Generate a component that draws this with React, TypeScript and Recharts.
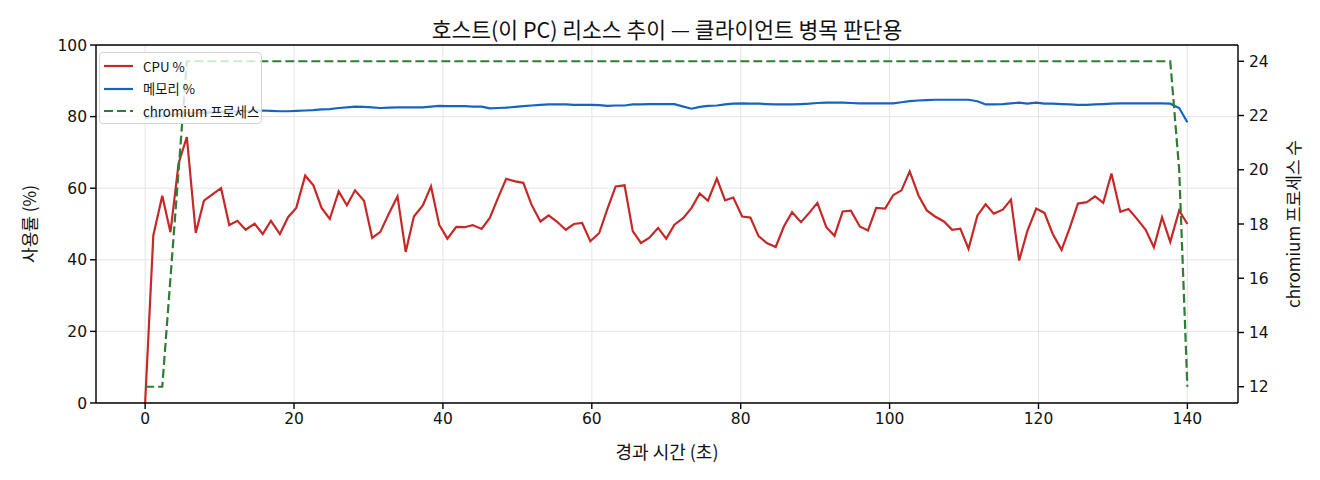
import { CartesianGrid, Line, LineChart, ReferenceLine, XAxis, YAxis } from 'recharts'

// elapsed seconds per sample (roughly 1.13 s apart)
const elapsed = [
  0, 1.1, 2.3, 3.4, 4.5, 5.6, 6.8, 7.9, 9.0, 10.2,
  11.3, 12.4, 13.5, 14.7, 15.8, 16.9, 18.1, 19.2, 20.3, 21.5,
  22.6, 23.7, 24.8, 26.0, 27.1, 28.2, 29.4, 30.5, 31.6, 32.7,
  33.9, 35.0, 36.1, 37.3, 38.4, 39.5, 40.6, 41.8, 42.9, 44.0,
  45.2, 46.3, 47.4, 48.5, 49.7, 50.8, 51.9, 53.1, 54.2, 55.3,
  56.5, 57.6, 58.7, 59.8, 61.0, 62.1, 63.2, 64.4, 65.5, 66.6,
  67.7, 68.9, 70.0, 71.1, 72.3, 73.4, 74.5, 75.6, 76.8, 77.9,
  79.0, 80.2, 81.3, 82.4, 83.5, 84.7, 85.8, 86.9, 88.1, 89.2,
  90.3, 91.5, 92.6, 93.7, 94.8, 96.0, 97.1, 98.2, 99.4, 100.5,
  101.6, 102.7, 103.9, 105.0, 106.1, 107.3, 108.4, 109.5, 110.6, 111.8,
  112.9, 114.0, 115.2, 116.3, 117.4, 118.5, 119.7, 120.8, 121.9, 123.1,
  124.2, 125.3, 126.5, 127.6, 128.7, 129.8, 131.0, 132.1, 133.2, 134.4,
  135.5, 136.6, 137.7, 138.9, 140.0,
]

const cpuPct = [
  0, 46.8, 57.9, 47.7, 67.0, 74.3, 47.5, 56.5, 58.2, 60.0,
  49.7, 50.9, 48.4, 50.1, 47.2, 50.9, 47.2, 51.9, 54.5, 63.5,
  60.8, 54.5, 51.4, 59.1, 55.2, 59.4, 56.5, 46.1, 47.8, 52.7,
  57.7, 42.2, 52.1, 55.2, 60.5, 49.8, 45.9, 49.2, 49.1, 49.7,
  48.6, 51.7, 57.3, 62.6, 61.9, 61.5, 55.4, 50.7, 52.4, 50.7,
  48.4, 50.0, 50.3, 45.2, 47.5, 54.2, 60.5, 60.8, 48.0, 44.7,
  46.1, 48.9, 45.9, 49.8, 51.7, 54.5, 58.5, 56.5, 62.7, 56.6,
  57.4, 52.1, 51.8, 46.6, 44.7, 43.6, 49.3, 53.3, 50.5, 53.1,
  55.9, 49.1, 46.7, 53.5, 53.7, 49.3, 48.2, 54.5, 54.3, 58.1,
  59.4, 64.7, 57.9, 53.8, 52.1, 50.7, 48.4, 48.7, 43.1, 52.4,
  55.5, 52.9, 54.0, 56.8, 39.8, 48.0, 54.3, 53.1, 47.3, 42.8,
  48.9, 55.7, 56.1, 57.7, 55.9, 64.1, 53.4, 54.2, 51.5, 48.4,
  43.5, 51.9, 45.0, 53.8, 50.0,
]

const memPct = [
  79.6, 79.9, 80.1, 80.4, 80.7, 80.9, 81.0, 81.1, 81.2, 81.3,
  81.4, 81.4, 81.5, 81.6, 81.7, 81.6, 81.5, 81.5, 81.6, 81.7,
  81.8, 82.0, 82.1, 82.4, 82.6, 82.8, 82.7, 82.6, 82.4, 82.5,
  82.6, 82.6, 82.6, 82.6, 82.8, 83.0, 82.9, 82.9, 82.9, 82.8,
  82.8, 82.3, 82.4, 82.5, 82.7, 82.9, 83.1, 83.3, 83.4, 83.4,
  83.4, 83.3, 83.3, 83.3, 83.2, 83.0, 83.1, 83.1, 83.4, 83.4,
  83.5, 83.5, 83.5, 83.5, 82.8, 82.2, 82.7, 83.0, 83.1, 83.4,
  83.6, 83.7, 83.6, 83.6, 83.5, 83.4, 83.4, 83.4, 83.5, 83.6,
  83.8, 83.9, 83.9, 83.9, 83.8, 83.7, 83.7, 83.7, 83.7, 83.7,
  84.0, 84.3, 84.5, 84.6, 84.7, 84.7, 84.7, 84.7, 84.7, 84.3,
  83.4, 83.4, 83.5, 83.7, 83.9, 83.6, 83.9, 83.6, 83.6, 83.5,
  83.4, 83.3, 83.3, 83.4, 83.5, 83.6, 83.7, 83.7, 83.7, 83.7,
  83.7, 83.7, 83.6, 82.4, 78.4,
]

const chromiumProcs = [
  12, 12, 12, 16, 20, 24, 24, 24, 24, 24,
  24, 24, 24, 24, 24, 24, 24, 24, 24, 24,
  24, 24, 24, 24, 24, 24, 24, 24, 24, 24,
  24, 24, 24, 24, 24, 24, 24, 24, 24, 24,
  24, 24, 24, 24, 24, 24, 24, 24, 24, 24,
  24, 24, 24, 24, 24, 24, 24, 24, 24, 24,
  24, 24, 24, 24, 24, 24, 24, 24, 24, 24,
  24, 24, 24, 24, 24, 24, 24, 24, 24, 24,
  24, 24, 24, 24, 24, 24, 24, 24, 24, 24,
  24, 24, 24, 24, 24, 24, 24, 24, 24, 24,
  24, 24, 24, 24, 24, 24, 24, 24, 24, 24,
  24, 24, 24, 24, 24, 24, 24, 24, 24, 24,
  24, 24, 24, 20, 12,
]

const timeTicks = [0, 20, 40, 60, 80, 100, 120, 140]
const pctTicks = [0, 20, 40, 60, 80, 100]
const procTicks = [12, 14, 16, 18, 20, 22, 24]

const rows = elapsed.map((t, i) => ({
  t,
  cpu: cpuPct[i],
  mem: memPct[i],
  procs: chromiumProcs[i],
}))

const series = [
  { key: 'cpu', name: 'CPU %', color: '#c62828', axis: 'left', dash: undefined },
  { key: 'mem', name: '메모리 %', color: '#1565c0', axis: 'left', dash: undefined },
  { key: 'procs', name: 'chromium 프로세스', color: '#2e7d32', axis: 'right', dash: '9 4' },
]

const FONT = '"Noto Sans CJK KR", "DejaVu Sans", sans-serif'
const TICK_FONT = '"DejaVu Sans", sans-serif'
const tickStyle = { fill: '#111', fontSize: 15.5, fontFamily: TICK_FONT }
const spine = { stroke: '#000', strokeWidth: 1.4 }

function RotatedLabel({ x, y, text }: { x: number; y: number; text: string }) {
  return (
    <div
      style={{
        position: 'absolute',
        left: x,
        top: y,
        transform: 'translate(-50%, -50%) rotate(-90deg)',
        whiteSpace: 'nowrap',
        fontSize: 17,
        color: '#111',
      }}
    >
      {text}
    </div>
  )
}

function LegendBox() {
  return (
    <div
      style={{
        position: 'absolute',
        left: 99,
        top: 52,
        width: 163,
        height: 72,
        border: '1px solid #d4d4d4',
        borderRadius: 4,
        background: 'rgba(255,255,255,0.8)',
        boxSizing: 'border-box',
      }}
    >
      {series.map((s, i) => (
        <div
          key={s.key}
          style={{
            position: 'absolute',
            left: 4,
            top: 2 + i * 22.7,
            height: 22,
            display: 'flex',
            alignItems: 'center',
            fontSize: 13.3,
            color: '#111',
            whiteSpace: 'nowrap',
          }}
        >
          <svg width={30} height={10} style={{ marginRight: 9 }}>
            <line x1={0} y1={5} x2={29} y2={5} stroke={s.color} strokeWidth={2.2} strokeDasharray={s.dash} />
          </svg>
          {s.name}
        </div>
      ))}
    </div>
  )
}

export default function App() {
  return (
    <div
      style={{
        position: 'absolute',
        left: 0,
        top: 0,
        width: 1320,
        height: 480,
        background: '#fff',
        fontFamily: FONT,
      }}
    >
      <LineChart width={1320} height={480} data={rows} margin={{ top: 45, right: 22, bottom: 47, left: 36 }}>
        <CartesianGrid yAxisId="left" stroke="#e4e4e4" strokeWidth={1} />
        <XAxis
          dataKey="t"
          type="number"
          domain={[-6.6, 146.8]}
          ticks={timeTicks}
          height={30}
          tick={tickStyle}
          tickSize={6}
          tickMargin={4}
          axisLine={spine}
          tickLine={spine}
        />
        <YAxis
          yAxisId="left"
          domain={[0, 100]}
          ticks={pctTicks}
          width={60}
          tick={tickStyle}
          tickSize={6}
          tickMargin={3}
          axisLine={spine}
          tickLine={spine}
        />
        <YAxis
          yAxisId="right"
          orientation="right"
          domain={[11.4, 24.6]}
          ticks={procTicks}
          width={60}
          tick={tickStyle}
          tickSize={6}
          tickMargin={5}
          axisLine={spine}
          tickLine={spine}
        />
        <ReferenceLine yAxisId="left" y={100} stroke="#000" strokeWidth={1.4} />
        {series.map((s) => (
          <Line
            key={s.key}
            yAxisId={s.axis}
            type="linear"
            dataKey={s.key}
            name={s.name}
            stroke={s.color}
            strokeWidth={2.2}
            strokeDasharray={s.dash}
            dot={false}
            isAnimationActive={false}
          />
        ))}
      </LineChart>

      <div
        style={{
          position: 'absolute',
          left: 667,
          top: 28,
          transform: 'translate(-50%, -50%)',
          whiteSpace: 'nowrap',
          fontSize: 21.5,
          color: '#111',
        }}
      >
        호스트(이 PC) 리소스 추이 — 클라이언트 병목 판단용
      </div>
      <div
        style={{
          position: 'absolute',
          left: 667,
          top: 451,
          transform: 'translate(-50%, -50%)',
          whiteSpace: 'nowrap',
          fontSize: 18,
          color: '#111',
        }}
      >
        경과 시간 (초)
      </div>
      <RotatedLabel x={28} y={224} text="사용률 (%)" />
      <RotatedLabel x={1292} y={224} text="chromium 프로세스 수" />
      <LegendBox />
    </div>
  )
}
